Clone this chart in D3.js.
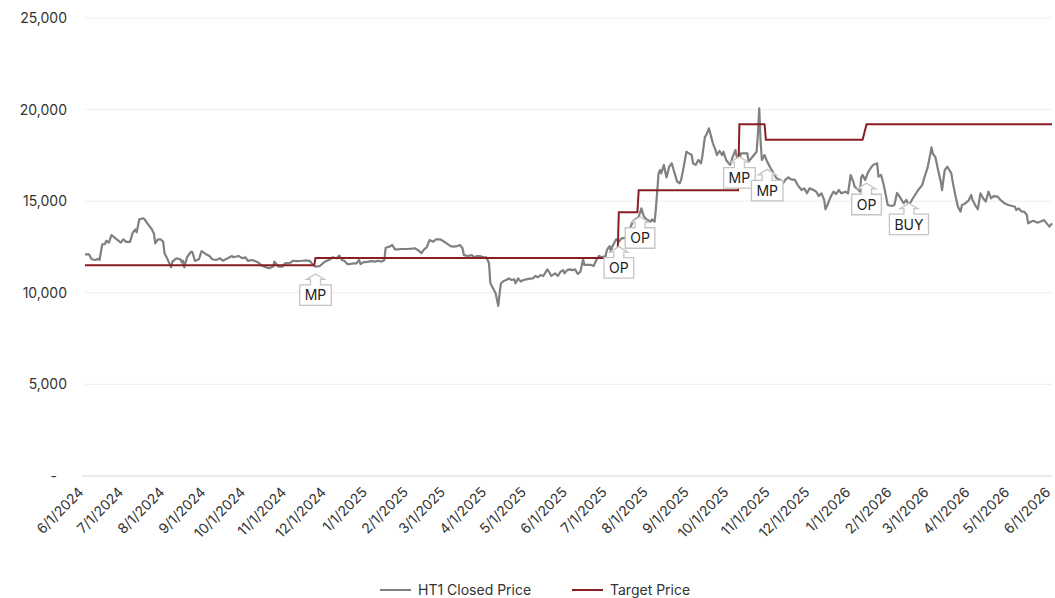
<!DOCTYPE html>
<html>
<head>
<meta charset="utf-8">
<script src="https://cdn.jsdelivr.net/npm/d3@7"></script>
<style>
  body { margin: 0; background: #fff; }
  text { font-family: Inter, "Noto Sans", sans-serif; }
</style>
</head>
<body>
<script>
// HT1 closed price vs target price

const priceDates = [
  "2024-06-01","2024-06-04","2024-06-06","2024-06-09","2024-06-11","2024-06-12","2024-06-14","2024-06-16","2024-06-17","2024-06-19",
  "2024-06-21","2024-06-25","2024-06-28","2024-06-30","2024-07-02","2024-07-05","2024-07-07","2024-07-09","2024-07-10","2024-07-12",
  "2024-07-15","2024-07-16","2024-07-19","2024-07-21","2024-07-23","2024-07-24","2024-07-26","2024-07-28","2024-07-30","2024-07-31",
  "2024-08-02","2024-08-05","2024-08-06","2024-08-09","2024-08-12","2024-08-13","2024-08-14","2024-08-15","2024-08-17","2024-08-20",
  "2024-08-21","2024-08-23","2024-08-26","2024-08-28","2024-08-31","2024-09-03","2024-09-05","2024-09-08","2024-09-11","2024-09-13",
  "2024-09-16","2024-09-20","2024-09-21","2024-09-25","2024-09-28","2024-09-30","2024-10-02","2024-10-05","2024-10-07","2024-10-10",
  "2024-10-13","2024-10-16","2024-10-18","2024-10-21","2024-10-22","2024-10-24","2024-10-25","2024-10-28","2024-10-30","2024-11-03",
  "2024-11-05","2024-11-08","2024-11-12","2024-11-15","2024-11-18","2024-11-19","2024-11-22","2024-11-25","2024-11-27","2024-11-29",
  "2024-12-02","2024-12-05","2024-12-08","2024-12-10","2024-12-12","2024-12-14","2024-12-16","2024-12-18","2024-12-21","2024-12-23",
  "2024-12-25","2024-12-26","2024-12-28","2025-01-01","2025-01-03","2025-01-06","2025-01-08","2025-01-11","2025-01-13","2025-01-14",
  "2025-01-17","2025-01-19","2025-01-21","2025-01-23","2025-01-26","2025-01-30","2025-02-03","2025-02-05","2025-02-08","2025-02-10",
  "2025-02-12","2025-02-14","2025-02-16","2025-02-19","2025-02-21","2025-02-24","2025-02-26","2025-03-01","2025-03-04","2025-03-06",
  "2025-03-09","2025-03-11","2025-03-13","2025-03-14","2025-03-17","2025-03-20","2025-03-22","2025-03-24","2025-03-26","2025-03-29",
  "2025-03-31","2025-04-02","2025-04-03","2025-04-05","2025-04-07","2025-04-09","2025-04-10","2025-04-11","2025-04-13","2025-04-15",
  "2025-04-17","2025-04-19","2025-04-21","2025-04-22","2025-04-24","2025-04-26","2025-04-28","2025-04-30","2025-05-03","2025-05-05",
  "2025-05-07","2025-05-09","2025-05-11","2025-05-13","2025-05-16","2025-05-18","2025-05-19","2025-05-22","2025-05-24","2025-05-26",
  "2025-05-28","2025-05-29","2025-05-31","2025-06-02","2025-06-04","2025-06-06","2025-06-08","2025-06-10","2025-06-12","2025-06-13",
  "2025-06-15","2025-06-18","2025-06-20","2025-06-22","2025-06-24","2025-06-26","2025-06-29","2025-06-30","2025-07-02","2025-07-03",
  "2025-07-04","2025-07-06","2025-07-07","2025-07-09","2025-07-11","2025-07-14","2025-07-20","2025-07-24","2025-07-26","2025-07-28",
  "2025-07-30","2025-08-02","2025-08-03","2025-08-05","2025-08-06","2025-08-08","2025-08-09","2025-08-10","2025-08-12","2025-08-13",
  "2025-08-14","2025-08-16","2025-08-18","2025-08-19","2025-08-20","2025-08-22","2025-08-24","2025-08-25","2025-08-27","2025-08-29",
  "2025-08-30","2025-09-02","2025-09-03","2025-09-05","2025-09-07","2025-09-09","2025-09-10","2025-09-12","2025-09-13","2025-09-15",
  "2025-09-17","2025-09-18","2025-09-20","2025-09-21","2025-09-23","2025-09-25","2025-09-26","2025-09-28","2025-09-30","2025-10-01",
  "2025-10-03","2025-10-05","2025-10-06","2025-10-08","2025-10-09","2025-10-14","2025-10-15","2025-10-19","2025-10-21","2025-10-22",
  "2025-10-23","2025-10-24","2025-10-25","2025-10-27","2025-10-29","2025-10-31","2025-11-03","2025-11-05","2025-11-08","2025-11-10",
  "2025-11-12","2025-11-14","2025-11-16","2025-11-19","2025-11-21","2025-11-24","2025-11-26","2025-11-28","2025-11-30","2025-12-03",
  "2025-12-05","2025-12-07","2025-12-09","2025-12-11","2025-12-12","2025-12-14","2025-12-16","2025-12-18","2025-12-20","2025-12-22",
  "2025-12-24","2025-12-27","2025-12-29","2025-12-31","2026-01-02","2026-01-03","2026-01-06","2026-01-07","2026-01-08","2026-01-09",
  "2026-01-11","2026-01-13","2026-01-15","2026-01-17","2026-01-20","2026-01-21","2026-01-23","2026-01-25","2026-01-28","2026-01-31",
  "2026-02-02","2026-02-04","2026-02-06","2026-02-09","2026-02-11","2026-02-13","2026-02-16","2026-02-20","2026-02-23","2026-02-25",
  "2026-02-27","2026-03-01","2026-03-02","2026-03-03","2026-03-05","2026-03-07","2026-03-09","2026-03-10","2026-03-12","2026-03-14",
  "2026-03-17","2026-03-18","2026-03-20","2026-03-22","2026-03-24","2026-03-25","2026-03-27","2026-03-30","2026-04-01","2026-04-02",
  "2026-04-04","2026-04-06","2026-04-08","2026-04-10","2026-04-12","2026-04-14","2026-04-16","2026-04-18","2026-04-21","2026-04-23",
  "2026-04-26","2026-04-29","2026-05-02","2026-05-04","2026-05-05","2026-05-07","2026-05-09","2026-05-11","2026-05-13","2026-05-14",
  "2026-05-16","2026-05-18","2026-05-21","2026-05-23","2026-05-26","2026-05-28","2026-05-30","2026-06-01"
];

const priceValues = [
  12100,12100,11830,11790,11860,11790,12650,12650,12840,12740,
  13150,12920,12740,12920,12780,12780,13280,13460,13300,14010,
  14070,14010,13700,13520,13240,12700,12920,12920,12790,12160,
  11880,11390,11700,11880,11830,11660,11750,11390,11940,12240,
  12240,11740,11830,12280,12120,12010,11830,11790,11880,11750,
  11860,12010,11940,12010,11880,11940,11740,11790,11750,11640,
  11460,11390,11340,11430,11700,11520,11430,11430,11610,11640,
  11750,11730,11750,11770,11730,11610,11430,11460,11570,11700,
  11790,11940,11880,12030,11790,11730,11570,11570,11610,11610,
  11790,11570,11660,11700,11730,11700,11750,11700,11790,12460,
  12520,12610,12370,12370,12390,12390,12410,12430,12300,12160,
  12370,12480,12880,12790,12920,12920,12840,12700,12550,12520,
  12550,12610,12430,12060,12010,12060,11940,12010,12010,11940,
  11940,11610,10520,10250,9970,9280,9970,10520,10640,10700,
  10790,10700,10730,10520,10790,10610,10700,10730,10770,10790,
  10920,10850,10970,10920,11280,11060,10920,11060,10920,11150,
  11240,11060,11240,11280,11240,11280,11030,11150,11830,11520,
  11520,11520,11460,11790,12010,11940,12010,12340,12550,12240,
  12520,12790,12920,12790,12970,13000,13930,14150,14610,14150,
  14010,13880,14010,13880,14610,16520,16700,16520,16980,16610,
  16300,16880,17070,16800,16560,16070,15980,16160,16880,17700,
  17650,17520,17070,16980,17250,17070,17430,18520,18610,18980,
  18430,18160,17790,17520,17740,17520,17700,17250,17070,16980,
  17430,17790,17430,17160,17610,17610,17160,17520,17700,18700,
  20070,18300,17250,17520,17160,16880,16500,16250,16160,15980,
  16190,16300,16190,16160,15880,15610,15700,15430,15700,15610,
  15520,15280,15430,15070,14560,14890,15250,15520,15390,15610,
  15430,15520,15430,16430,16070,15790,15610,15520,16300,16430,
  16160,16560,16800,16980,17070,16340,16430,15880,14790,14740,
  14790,15450,15250,14890,15070,14790,15160,15610,15880,16380,
  16800,17520,17940,17600,17400,16700,16070,15610,16700,16880,
  16520,16070,15340,14700,14430,14790,14850,15030,15340,15070,
  14790,14560,15430,15160,14980,15520,15160,15280,15250,15070,
  14890,14790,14740,14700,14520,14610,14430,14430,14250,13790,
  13880,13930,13830,13880,13970,13790,13610,13790
];

// target price steps (both ends of each change)
const targetDates = ["2024-06-01","2024-11-21","2024-11-22","2025-07-08","2025-07-09","2025-07-23","2025-07-24",
  "2025-10-07","2025-10-08","2025-10-27","2025-10-28","2026-01-09","2026-01-12","2026-06-01"];
const targetValues = [11500,11500,11900,11900,14400,14400,15600,15600,19200,19200,18350,18350,19200,19200];

// callouts (arrow tip)
const calloutLabels = ["MP","OP","OP","MP","MP","OP","BUY"];
const calloutDates = ["2024-11-22","2025-07-09","2025-07-25","2025-10-08","2025-10-29","2026-01-12","2026-02-13"];
const calloutValues = [11030,12520,14150,17430,16740,15980,14890];

const yTicks = [0,5000,10000,15000,20000,25000];
const seriesNames = ["HT1 Closed Price","Target Price"];
const seriesColors = ["#808080","#8b1e22"];

const W = 1055, H = 598;
const margin = {left: 85, right: 1052, top: 18, bottom: 476};

const parse = d3.timeParse("%Y-%m-%d");
const price = priceDates.map((d, i) => ({date: parse(d), value: priceValues[i]}));
const target = targetDates.map((d, i) => ({date: parse(d), value: targetValues[i]}));
const callouts = calloutLabels.map((l, i) => ({label: l, date: parse(calloutDates[i]), value: calloutValues[i]}));

const svg = d3.select("body").append("svg")
    .attr("width", W)
    .attr("height", H);

const x = d3.scaleTime()
    .domain([parse("2024-06-01"), parse("2026-06-01")])
    .range([margin.left, margin.right]);

const y = d3.scaleLinear()
    .domain([0, 25000])
    .range([margin.bottom, margin.top]);

// grid
svg.append("g")
    .selectAll("line")
    .data(yTicks.filter(t => t > 0))
    .enter()
    .append("line")
    .attr("x1", margin.left)
    .attr("x2", margin.right)
    .attr("y1", d => y(d))
    .attr("y2", d => y(d))
    .style("stroke", "#eeeeee")
    .style("stroke-width", 1);

// y axis
const yAxis = svg.append("g")
    .attr("transform", "translate(" + margin.left + ",0)")
    .call(d3.axisLeft(y).tickValues(yTicks).tickSize(0).tickPadding(18)
        .tickFormat(d => d === 0 ? "-" : d3.format(",")(d)));
yAxis.select(".domain").remove();
yAxis.selectAll("text")
    .style("font-size", "14px")
    .style("fill", "#333")
    .attr("dx", d => d === 0 ? -10 : 0);

// x axis
const xAxis = svg.append("g")
    .attr("transform", "translate(0," + margin.bottom + ")")
    .call(d3.axisBottom(x).ticks(d3.timeMonth.every(1)).tickSize(0)
        .tickFormat(d3.timeFormat("%-m/%-d/%Y")));
xAxis.select(".domain")
    .attr("d", "M" + (margin.left - 3) + ",0H" + margin.right)
    .style("stroke", "#d9d9d9")
    .style("stroke-width", 1.2);
xAxis.selectAll("text")
    .style("font-size", "14px")
    .style("fill", "#333")
    .attr("text-anchor", "end")
    .attr("y", 0)
    .attr("dy", 0)
    .attr("transform", "translate(-1,17) rotate(-45)");

// lines
const line = d3.line()
    .x(d => x(d.date))
    .y(d => y(d.value));

svg.append("path")
    .datum(price)
    .attr("d", line)
    .style("fill", "none")
    .style("stroke", seriesColors[0])
    .style("stroke-width", 2.2)
    .style("stroke-linejoin", "round");

svg.append("path")
    .datum(target)
    .attr("d", line)
    .style("fill", "none")
    .style("stroke", seriesColors[1])
    .style("stroke-width", 2);

// callouts
const cg = svg.append("g")
    .selectAll("g")
    .data(callouts)
    .enter()
    .append("g")
    .attr("transform", d => "translate(" + x(d.date) + "," + y(d.value) + ")");

cg.append("text")
    .attr("text-anchor", "middle")
    .attr("y", 26.5)
    .style("font-size", "14px")
    .style("fill", "#222")
    .text(d => d.label);

cg.insert("path", "text")
    .attr("d", function () {
        const w = this.parentNode.querySelector("text").getComputedTextLength() + 10;
        const h = w / 2;
        return "M0,0L9,5.5L5,5.5L5,11L" + h + ",11L" + h + ",31.5L" + (-h) + ",31.5L" + (-h) +
            ",11L-5,11L-5,5.5L-9,5.5Z";
    })
    .style("fill", "#fff")
    .style("stroke", "#c4c4c4")
    .style("stroke-width", 1.3);

// legend
const legendX = [380, 572];
const lg = svg.append("g")
    .selectAll("g")
    .data(seriesNames)
    .enter()
    .append("g")
    .attr("transform", (d, i) => "translate(" + legendX[i] + ",590)");

lg.append("line")
    .attr("x1", 0)
    .attr("x2", 31)
    .style("stroke", (d, i) => seriesColors[i])
    .style("stroke-width", 2);

lg.append("text")
    .attr("x", 38)
    .attr("y", 5)
    .style("font-size", "14px")
    .style("fill", "#333")
    .text(d => d);
</script>
</body>
</html>
